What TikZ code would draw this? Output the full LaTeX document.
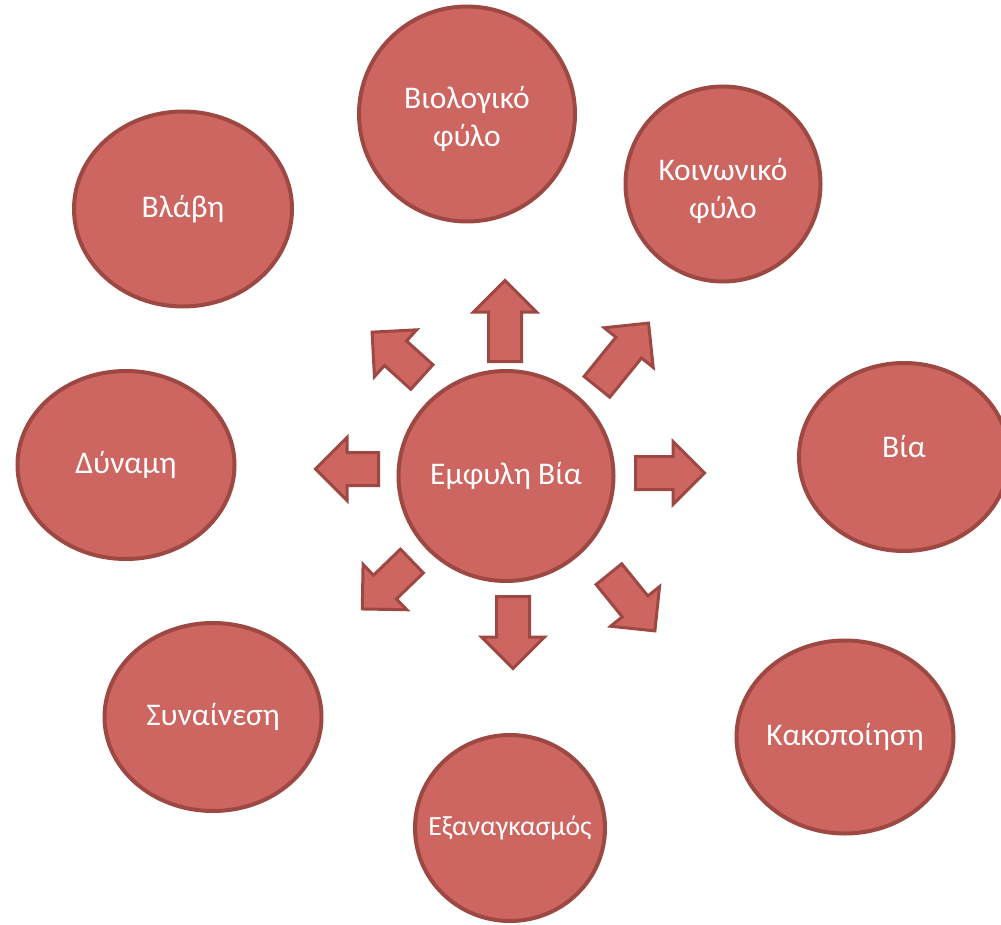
\documentclass[tikz,border=0pt]{standalone}
\usepackage{fontspec}
\setmainfont{Carlito}
\usetikzlibrary{shapes.geometric,shapes.arrows}
\definecolor{bubfill}{RGB}{205,101,96}
\definecolor{bubline}{RGB}{158,72,68}
\tikzset{
  bubble/.style={ellipse, fill=bubfill, draw=bubline, line width=4pt, inner sep=0pt,
    text=white, align=center, font=\fontsize{31.5}{38}\selectfont},
  blockarrow/.style={single arrow, fill=bubfill, draw=bubline, line width=3pt,
    inner xsep=0pt, inner ysep=15pt, single arrow head extend=15pt, anchor=tail}
}
\begin{document}
\begin{tikzpicture}[x=1pt,y=-1pt]
\useasboundingbox (0,0) rectangle (1001,925);
\node[bubble, minimum width=215pt, minimum height=210pt] (c) at (506,476) {\raisebox{-3pt}{Εμφυλη Βία}};
\node[bubble, minimum width=216pt, minimum height=215pt] (bio) at (467,114) {\rule{0pt}{32pt}Βιολογικό\\φύλο};
\node[bubble, minimum width=195pt, minimum height=195pt] (koin) at (723,184) {\rule{0pt}{36pt}Κοινωνικό\\φύλο};
\node[bubble, minimum width=218pt, minimum height=195pt] (vl) at (183,209) {\raisebox{-4pt}{Βλάβη}};
\node[bubble, minimum width=217pt, minimum height=188pt] (dyn) at (126,465) {Δύναμη};
\node[bubble, minimum width=210pt, minimum height=188pt] (via) at (904,457) {\raisebox{22pt}{Βία}};
\node[bubble, minimum width=217pt, minimum height=188pt] (syn) at (213,717) {\raisebox{-4pt}{Συναίνεση}};
\node[bubble, minimum width=190pt, minimum height=186pt, font=\fontsize{27.8}{34}\selectfont] (exan) at (510,828) {\makebox[0pt]{Εξαναγκασμός}};
\node[bubble, minimum width=217pt, minimum height=193pt] (kak) at (845,737) {\makebox[0pt]{Κακοποίηση}};
\node[blockarrow, minimum height=81pt, rotate=90] (a1) at (505,363) {};
\node[blockarrow, minimum height=82pt, rotate=51] (a2) at (596,388) {};
\node[blockarrow, minimum height=69pt, rotate=0] (a3) at (634,473) {};
\node[blockarrow, minimum height=73pt, rotate=-51] (a4) at (608,573) {};
\node[blockarrow, minimum height=72pt, rotate=-90] (a5) at (513,595) {};
\node[blockarrow, minimum height=69pt, rotate=224] (a6) at (413,560) {};
\node[blockarrow, minimum height=63pt, rotate=180] (a7) at (380,469) {};
\node[blockarrow, minimum height=67pt, rotate=138] (a8) at (423,378) {};
\end{tikzpicture}
\end{document}
